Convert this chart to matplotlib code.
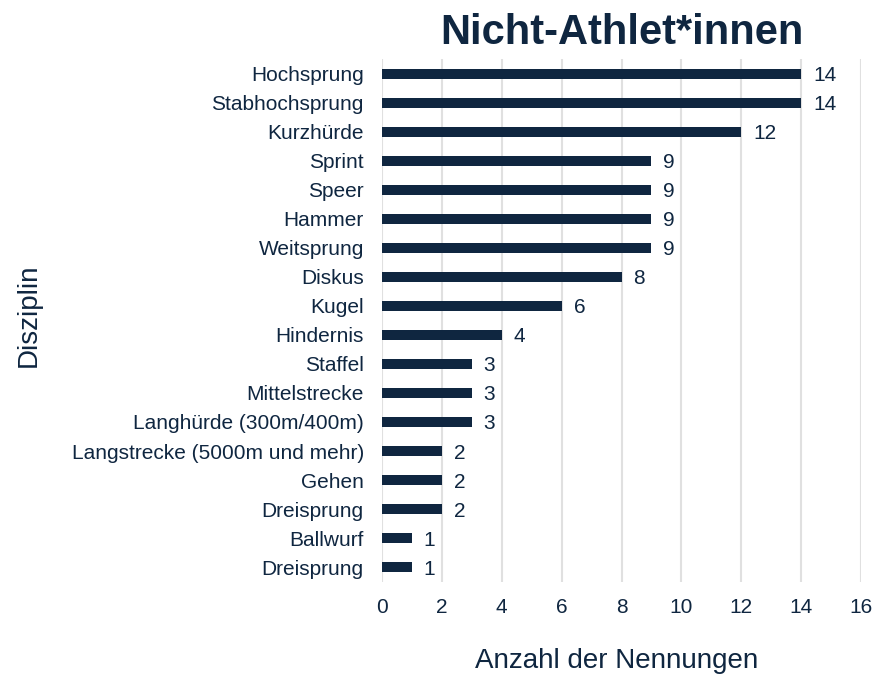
import matplotlib
matplotlib.use("Agg")
import matplotlib.pyplot as plt
import numpy as np

categories = ["Hochsprung", "Stabhochsprung", "Kurzhürde", "Sprint", "Speer", "Hammer",
              "Weitsprung", "Diskus", "Kugel", "Hindernis", "Staffel", "Mittelstrecke",
              "Langhürde (300m/400m)", "Langstrecke (5000m und mehr)", "Gehen",
              "Dreisprung", "Ballwurf", "Dreisprung"]
values = [14, 14, 12, 9, 9, 9, 9, 8, 6, 4, 3, 3, 3, 2, 2, 2, 1, 1]
xticks = [0, 2, 4, 6, 8, 10, 12, 14, 16]

navy = "#0f2640"
plt.rcParams['font.family'] = ['Liberation Sans', 'DejaVu Sans']

fig = plt.figure(figsize=(8.86, 6.75), dpi=100)
ax = fig.add_axes([0.431, 0.1385, 0.541, 0.7734])

pos = np.arange(len(categories))
ax.barh(pos, values, height=0.36, color=navy, zorder=3)
for p, v in zip(pos, values):
    ax.text(v + 0.4, p, str(v), va="center_baseline", ha="left", fontsize=15, color=navy)

ax.set_ylim(len(categories) - 0.5, -0.5)
ax.set_xlim(0, 16)
ax.set_yticks(pos)
ax.set_yticklabels(categories)
ax.set_xticks(xticks)
ax.tick_params(axis="both", length=0, labelsize=15, colors=navy)
ax.tick_params(axis="y", pad=13)
ax.tick_params(axis="x", pad=12)
ax.grid(axis="x", color="#e0e0e0", linewidth=1.5, zorder=0)
for s in ax.spines.values():
    s.set_visible(False)

ax.set_xlabel("Anzahl der Nennungen", fontsize=20, color=navy)
ax.xaxis.set_label_coords(0.49, -0.128)
ax.set_ylabel("Disziplin", fontsize=20, color=navy)
ax.yaxis.set_label_coords(-0.71, 0.51)
ax.set_title("Nicht-Athlet*innen", fontsize=30, fontweight="bold", color=navy, pad=11)

fig.savefig("out.png", dpi=100)
